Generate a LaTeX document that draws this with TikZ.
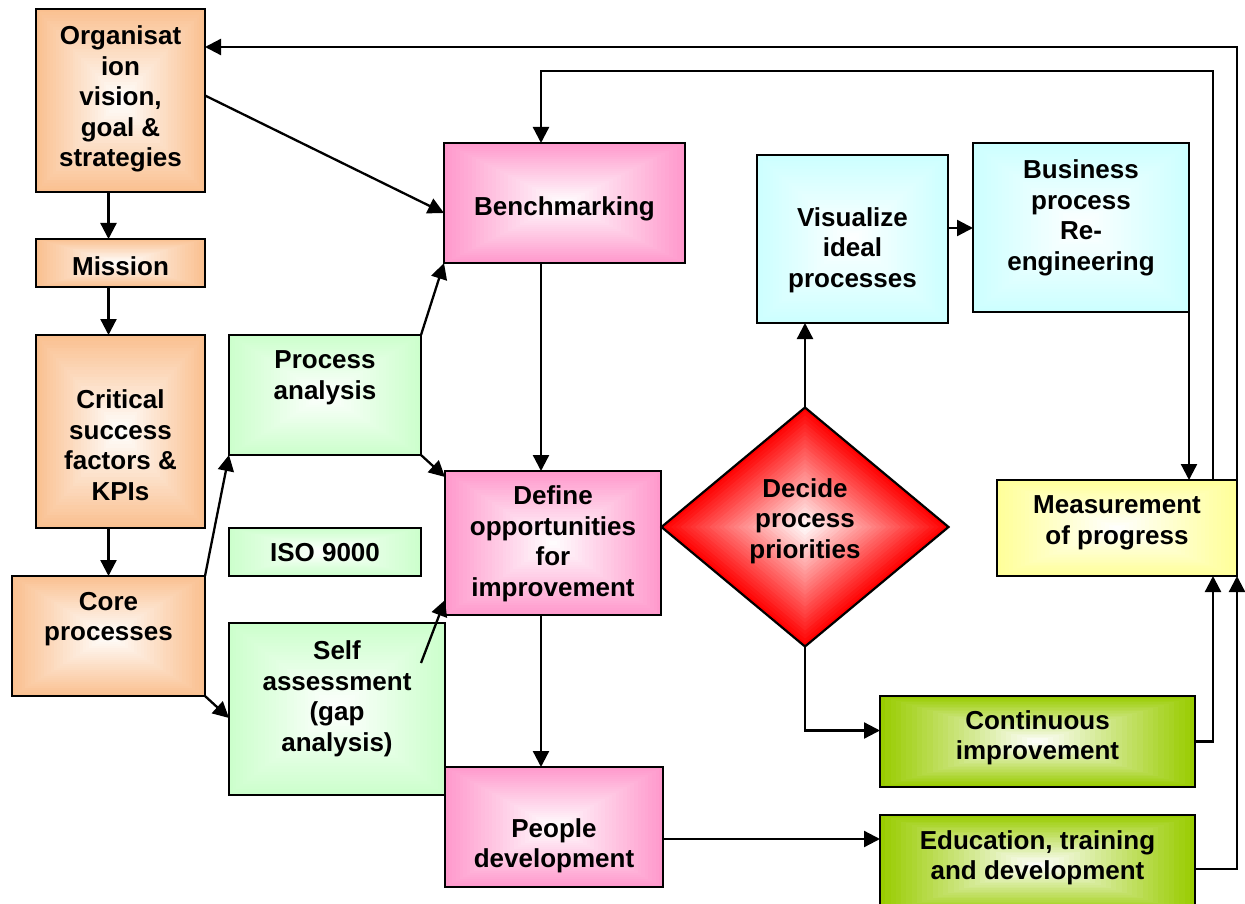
\documentclass[tikz,border=0pt]{standalone}
\usepackage{fontspec}
\setmainfont{Liberation Sans}
\usetikzlibrary{shapes.geometric,arrows.meta,calc}
\definecolor{cOrange}{RGB}{250,192,144}
\definecolor{cPink}{RGB}{255,153,204}
\definecolor{cCyan}{RGB}{204,255,255}
\definecolor{cLGreen}{RGB}{204,255,204}
\definecolor{cYellow}{RGB}{255,255,153}
\definecolor{cOlive}{RGB}{153,204,0}
\definecolor{cRed}{RGB}{255,0,0}
\tikzset{
  shell/.style={inner sep=0pt, outer sep=0pt},
  edge/.style={draw=black, line width=2.2pt},
  lbl/.style={align=center, font=\fontsize{26}{30.5}\selectfont\bfseries, inner sep=0pt},
  arr/.style={line width=2.3pt, -{Triangle[length=16pt,width=16pt]}},
}
% name, colour, centre, width, height
\newcommand\gradbox[5]{%
  \node[shell, minimum width=#4, minimum height=#5] (#1) at (#3) {};
  \foreach \k in {0,...,29}{%
    \pgfmathsetmacro\f{1-\k/30}%
    \pgfmathtruncatemacro\p{100*\f}%
    \fill[#2!\p!white] ($(#1.center)!\f!(#1.north west)$) rectangle ($(#1.center)!\f!(#1.south east)$);
  }
  \draw[edge] (#1.north west) rectangle (#1.south east);
}
\begin{document}
\begin{tikzpicture}[x=1pt,y=-1pt]
\useasboundingbox (0,0) rectangle (1245,904);
% boxes
\gradbox{org}{cOrange}{120.5,100.5}{169pt}{183pt}
\gradbox{mission}{cOrange}{120.5,263}{169pt}{48pt}
\gradbox{critical}{cOrange}{120.5,431.5}{169pt}{193pt}
\gradbox{core}{cOrange}{108.5,636}{193pt}{120pt}
\gradbox{pa}{cLGreen}{325,395}{192pt}{120pt}
\gradbox{iso}{cLGreen}{325,552}{192pt}{48pt}
\gradbox{sa}{cLGreen}{337,709}{216pt}{172pt}
\gradbox{bench}{cPink}{564.5,203}{241pt}{120pt}
\gradbox{def}{cPink}{553,543}{216pt}{144pt}
\gradbox{people}{cPink}{554,827}{218pt}{120pt}
\gradbox{vis}{cCyan}{852.5,239}{191pt}{168pt}
\gradbox{bus}{cCyan}{1081,227.5}{216pt}{169pt}
\gradbox{meas}{cYellow}{1117,528}{240pt}{96pt}
\gradbox{cont}{cOlive}{1037.5,741.5}{315pt}{91pt}
\gradbox{edu}{cOlive}{1037.5,865}{315pt}{100pt}
% decision diamond
\node[diamond, shell, aspect=1.2, minimum width=287pt, minimum height=239pt] (dia) at (805,527) {};
\foreach \k in {0,...,29}{%
  \pgfmathsetmacro\f{1-\k/30}%
  \pgfmathtruncatemacro\p{100*\f}%
  \fill[cRed!\p!white] ($(dia.center)!\f!(dia.north)$) -- ($(dia.center)!\f!(dia.east)$) -- ($(dia.center)!\f!(dia.south)$) -- ($(dia.center)!\f!(dia.west)$) -- cycle;
}
\draw[edge] (dia.north) -- (dia.east) -- (dia.south) -- (dia.west) -- cycle;
% helper coordinates
\coordinate (colx) at (541,0);
\coordinate (top1) at (1237,47);
\coordinate (top2) at (1213,71);
% connectors
\draw[arr] (org.south -| core) -- (mission.north -| core);
\draw[arr] (mission.south -| core) -- (critical.north -| core);
\draw[arr] (critical.south -| core) -- (core.north);
\draw[arr] ([yshift=5pt]org.east) -- ([yshift=-10pt]bench.west);
\draw[arr] (pa.north east) -- (bench.south west);
\draw[arr] (pa.south east) -- ([yshift=-6pt]def.north west);
\draw[arr] (core.north east) -- (pa.south west);
\draw[arr] (core.south east) -- ([yshift=-9pt]sa.west);
\draw[arr] ([shift={(-24pt,-40pt)}]sa.north east) -- ([yshift=15pt]def.south west);
\draw[arr] (bench.south -| colx) -- (def.north -| colx);
\draw[arr] (def.south -| colx) -- (people.north -| colx);
\draw[arr] ([yshift=-12pt]people.east) -- ([yshift=-12pt]people.east -| edu.west);
\draw[arr] (dia.north) -- (dia.north |- vis.south);
\draw[arr] ([yshift=11pt]vis.east) -- ([yshift=11pt]vis.east -| bus.west);
\draw[arr] (bus.south east) -- (bus.south east |- meas.north);
\draw[arr] (meas.north east) -- (top1) -- (top1 -| org.east);
\draw[arr] (meas.north -| top2) -- (top2) -| (bench.north -| colx);
\draw[arr] (dia.south) |- ([yshift=11pt]cont.west);
\draw[arr] (cont.east) -| (meas.south -| top2);
\draw[arr] ([yshift=-4pt]edu.east) -| (meas.south east);
% labels
\node[lbl] (orgt) at (120.5,99) {Organisat\\ion\\vision,\\goal \&\\strategies};
\node[lbl] (missiont) at (120.5,266) {Mission};
\node[lbl] (criticalt) at (120.5,445) {Critical\\success\\factors \&\\KPIs};
\node[lbl] (coret) at (108.5,619) {Core\\processes};
\node[lbl] (pat) at (325,378) {Process\\analysis};
\node[lbl] (isot) at (325,553) {ISO 9000};
\node[lbl] (sat) at (337,699) {Self\\assessment\\(gap\\analysis)};
\node[lbl] (bencht) at (564.5,209) {Benchmarking};
\node[lbl] (deft) at (553,544) {Define\\opportunities\\for\\improvement};
\node[lbl] (peoplet) at (554,846) {People\\development};
\node[lbl] (vist) at (852.5,250) {Visualize\\ideal\\processes};
\node[lbl] (bust) at (1081,218) {Business\\process\\Re-\\engineering};
\node[lbl] (diat) at (805,521) {Decide\\process\\priorities};
\node[lbl] (meast) at (1117,523) {Measurement\\of progress};
\node[lbl] (contt) at (1037.5,738) {Continuous\\improvement};
\node[lbl] (edut) at (1037.5,858) {Education, training\\and development};
\end{tikzpicture}
\end{document}
